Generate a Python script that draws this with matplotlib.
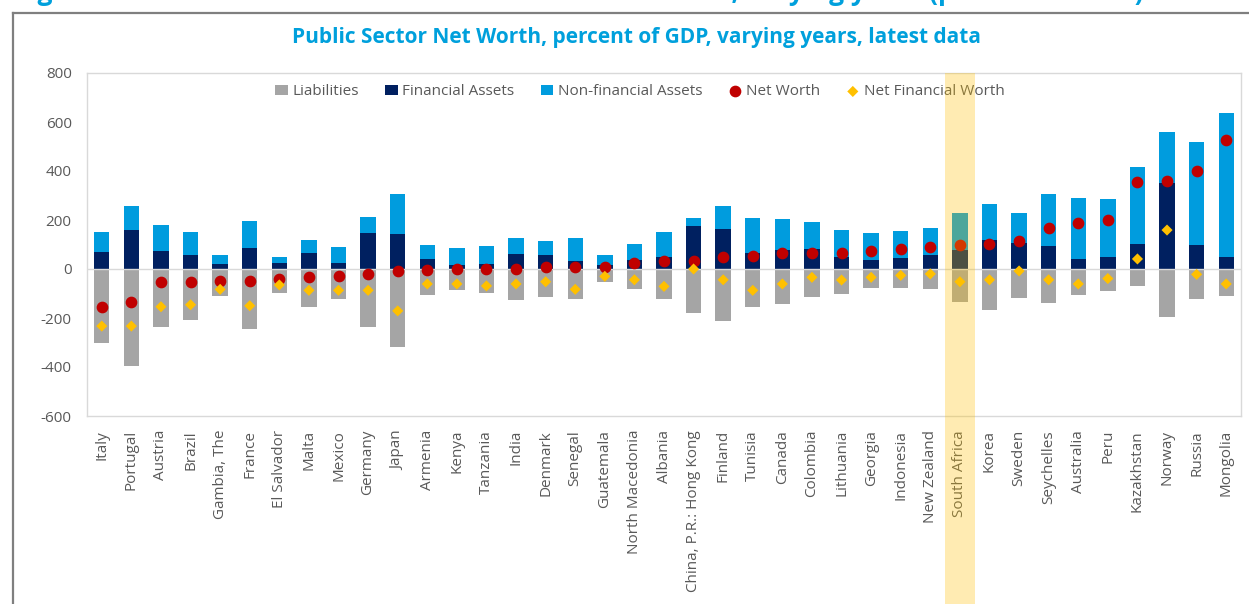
import numpy as np
import matplotlib
matplotlib.use("Agg")
import matplotlib.pyplot as plt
from matplotlib.lines import Line2D
from matplotlib.patches import Rectangle
import matplotlib.transforms as mtransforms

plt.rcParams['font.family'] = ['Open Sans', 'DejaVu Sans']
plt.rcParams['axes.unicode_minus'] = False

countries = ['Italy', 'Portugal', 'Austria', 'Brazil', 'Gambia, The', 'France',
             'El Salvador', 'Malta', 'Mexico', 'Germany', 'Japan', 'Armenia',
             'Kenya', 'Tanzania', 'India', 'Denmark', 'Senegal', 'Guatemala',
             'North Macedonia', 'Albania', 'China, P.R.: Hong Kong', 'Finland',
             'Tunisia', 'Canada', 'Colombia', 'Lithuania', 'Georgia', 'Indonesia',
             'New Zealand', 'South Africa', 'Korea', 'Sweden', 'Seychelles',
             'Australia', 'Peru', 'Kazakhstan', 'Norway', 'Russia', 'Mongolia']

# percent of GDP
liabilities = [-303, -396, -238, -207, -109, -246, -97, -154, -122, -238, -317, -105,
               -87, -97, -127, -114, -122, -52, -83, -122, -180, -211, -154, -144,
               -114, -100, -79, -79, -83, -136, -166, -118, -140, -105, -91, -69,
               -197, -122, -109]
fin_assets = [71, 159, 75, 57, 22, 87, 26, 67, 26, 146, 141, 39,
              18, 22, 63, 57, 34, 18, 35, 49, 177, 163, 65, 78,
              82, 49, 35, 45, 59, 78, 118, 106, 93, 39, 49, 102,
              352, 98, 49]
nonfin_assets = [79, 98, 103, 93, 35, 108, 22, 53, 62, 66, 164, 59,
                 66, 72, 65, 59, 94, 39, 67, 101, 30, 94, 142, 125,
                 108, 110, 111, 110, 110, 152, 147, 124, 212, 249, 235, 314,
                 207, 420, 589]
net_worth = [-154, -136, -52, -52, -48, -48, -42, -34, -30, -20, -8, -3,
             1, 1, 1, 10, 10, 10, 23, 31, 31, 50, 54, 64,
             64, 64, 72, 82, 90, 98, 103, 116, 169, 186, 200, 355,
             359, 399, 527]
net_fin_worth = [-233, -233, -154, -146, -83, -150, -65, -87, -87, -87, -171, -61,
                 -61, -69, -61, -52, -83, -30, -44, -71, 0, -44, -87, -61,
                 -34, -45, -34, -26, -20, -52, -44, -8, -44, -61, -39, 41,
                 159, -22, -61]

highlight = 'South Africa'

W, H = 1249, 604
fig = plt.figure(figsize=(W / 100, H / 100), dpi=100)
ax = fig.add_axes([87 / W, 1 - 416 / H, (1241 - 87) / W, (416 - 73) / H])

x = np.arange(len(countries))
bw = 0.52
b_liab = ax.bar(x, liabilities, bw, color='#A5A5A5', label='Liabilities', zorder=2)
b_fin = ax.bar(x, fin_assets, bw, color='#002060', label='Financial Assets', zorder=2)
b_nonfin = ax.bar(x, nonfin_assets, bw, bottom=fin_assets, color='#009CDE',
                  label='Non-financial Assets', zorder=2)
ax.axhline(0, color='#D9D9D9', lw=1, zorder=3)
s_nw = ax.scatter(x, net_worth, s=55, marker='o', color='#C00000', label='Net Worth', zorder=4)
s_nfw = ax.scatter(x, net_fin_worth, s=32, marker='D', color='#FFC000', edgecolors='none',
                   label='Net Financial Worth', zorder=4)

ax.set_xlim(-0.5, len(countries) - 0.5)
ax.set_ylim(-600, 800)
ax.set_yticks(range(-600, 801, 200))
ax.tick_params(axis='y', length=0, pad=11, labelsize=11, labelcolor='#595959')
ax.tick_params(axis='x', length=0, pad=10, labelsize=11, labelcolor='#595959')
ax.set_xticks(x)
ax.set_xticklabels(countries, rotation=90)
for s in ax.spines.values():
    s.set_color('#D9D9D9')
    s.set_linewidth(1)

handles = [b_liab, b_fin, b_nonfin, s_nw, s_nfw]
ax.legend(handles=handles, labels=[h.get_label() for h in handles],
          loc='upper center', bbox_to_anchor=(0.479, 1.0), ncol=5, frameon=False,
          fontsize=11, handlelength=0.8, handletextpad=0.3, columnspacing=1.75,
          labelcolor='#595959', borderaxespad=0.35)

# shaded column over the highlighted country
trans = mtransforms.blended_transform_factory(ax.transData, fig.transFigure)
i = countries.index(highlight)
ax.add_patch(Rectangle((i - 0.5, 0), 1.0, 1 - 73 / H, transform=trans,
                       facecolor='#FFC000', alpha=0.3, edgecolor='none',
                       clip_on=False, zorder=10))

fig.text(636 / W, 1 - 38 / H, 'Public Sector Net Worth, percent of GDP, varying years, latest data',
         ha='center', va='center', fontsize=15, fontweight='bold', color='#00A0DC')

# heading above the box, only its lower edge falls inside the page
fig.text(15 / W, 1 + 0.5 / H,
         'Figure 4: Public Sector Net Worth of Selected Countries, varying years (percent of GDP)',
         ha='left', va='baseline', fontsize=19, fontweight='bold', color='#00A0DC')

# box outline
fig.add_artist(Line2D([13 / W, 13 / W], [0, 1 - 13 / H], color='#7F7F7F', lw=1.6))
fig.add_artist(Line2D([13 / W, 1], [1 - 13 / H, 1 - 13 / H], color='#7F7F7F', lw=1.6))

fig.savefig('out.png', dpi=100)
